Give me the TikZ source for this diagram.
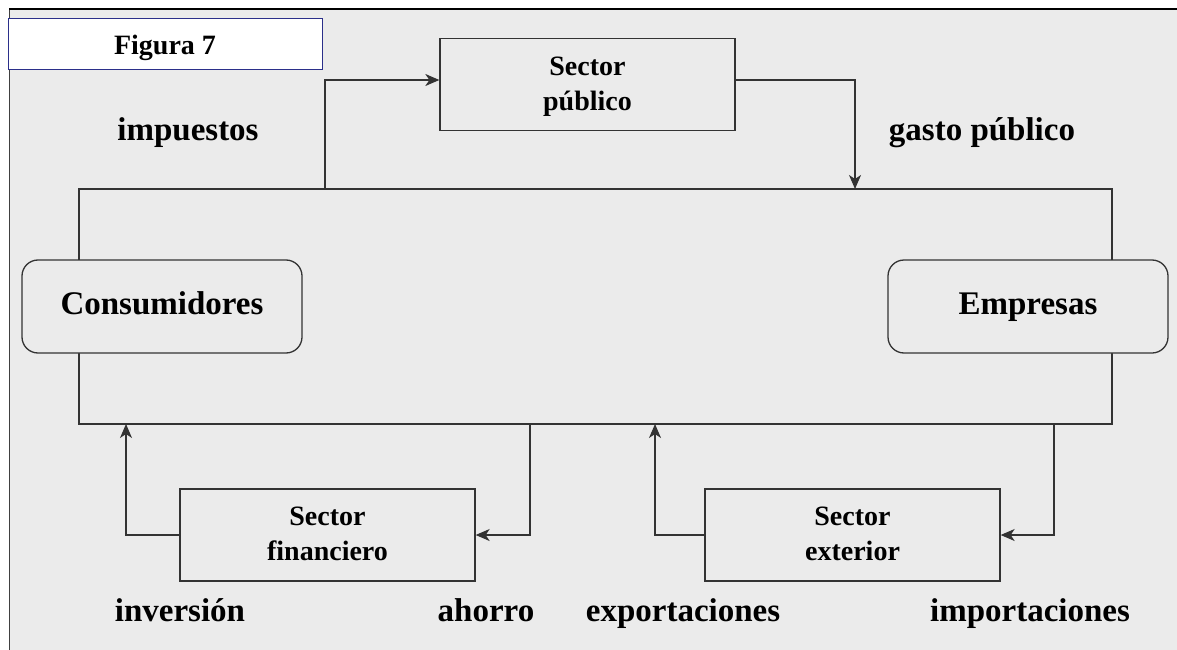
\documentclass[tikz,border=0pt]{standalone}
\usepackage{fontspec}
\setmainfont{Liberation Serif}
\usetikzlibrary{arrows.meta}
\definecolor{fondo}{HTML}{EBEBEB}
\definecolor{linea}{HTML}{333333}
\definecolor{marco}{HTML}{2B2F8A}

\begin{document}
\begin{tikzpicture}[x=1pt,y=-1pt,
    sector/.style={rectangle, draw=linea, line width=1.3pt, fill=fondo, minimum width=295pt, minimum height=92pt, align=center, text depth=2pt, font=\bfseries\fontsize{28}{35}\selectfont},
    agente/.style={rectangle, rounded corners=16pt, draw=linea, line width=1.3pt, fill=fondo, minimum width=280pt, minimum height=93pt, text height=22pt, text depth=7pt, font=\bfseries\fontsize{33}{40}\selectfont},
    etiqueta/.style={anchor=base, font=\bfseries\fontsize{33}{40}\selectfont},
    flujo/.style={draw=linea, line width=1.3pt, -{Stealth[length=14pt,width=12pt,inset=4pt]}}]
    \useasboundingbox (0,0) rectangle (1177,650);
    \fill[white] (0,0) rectangle (1177,650);
    \fill[fondo] (9,9) rectangle (1177,650);
    \draw[line width=1pt, black!75] (9,650) -- (9,9);
    \draw[line width=2pt] (9,9) -- (1177,9);

    \node [rectangle, draw=marco, line width=1pt, fill=white, minimum width=314pt, minimum height=51pt, text depth=0pt, font=\bfseries\fontsize{28}{34}\selectfont] (figura) at (165,44.5) {Figura 7};

    % circuito principal
    \draw[linea, line width=1.3pt] (79,189) rectangle (1112,424);

    \node [agente] (consumidores) at (162,306.5) {Consumidores};
    \node [agente] (empresas) at (1028,306.5) {Empresas};

    \node [sector] (publico) at (587.5,84.5) {Sector\\público};
    \node [sector] (financiero) at (327.5,535) {Sector\\financiero};
    \node [sector] (exterior) at (852.5,535) {Sector\\exterior};

    \coordinate (impuestos) at (325,189);
    \coordinate (gasto) at (855,189);
    \coordinate (inversion) at (126,424);
    \coordinate (ahorro) at (530,424);
    \coordinate (exportaciones) at (655,424);
    \coordinate (importaciones) at (1054,424);

    \draw [flujo] (impuestos) |- ([yshift=4.5pt]publico.west);
    \draw [flujo] ([yshift=4.5pt]publico.east) -| (gasto);
    \draw [flujo] (financiero.west) -| (inversion);
    \draw [flujo] (ahorro) |- (financiero.east);
    \draw [flujo] (exterior.west) -| (exportaciones);
    \draw [flujo] (importaciones) |- (exterior.east);

    \node [etiqueta] (l-impuestos) at (188,140) {impuestos};
    \node [etiqueta] (l-gasto) at (982,140) {gasto público};
    \node [etiqueta] (l-inversion) at (180,621) {inversión};
    \node [etiqueta] (l-ahorro) at (486,621) {ahorro};
    \node [etiqueta] (l-exportaciones) at (683,621) {exportaciones};
    \node [etiqueta] (l-importaciones) at (1030,621) {importaciones};
\end{tikzpicture}
\end{document}
